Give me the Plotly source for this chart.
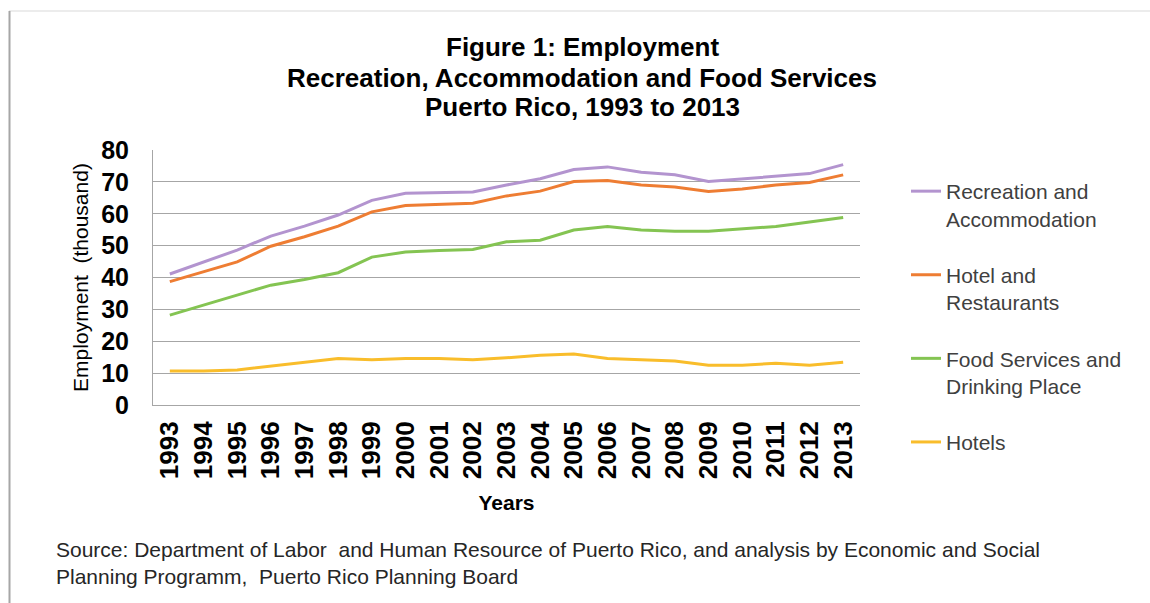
import plotly.graph_objects as go

years = [str(y) for y in range(1993, 2014)]
recreation = [41.1, 44.9, 48.6, 53.0, 56.1, 59.6, 64.2, 66.4, 66.7, 66.8, 69.0,
              71.0, 73.9, 74.7, 73.0, 72.2, 70.1, 70.9, 71.8, 72.6, 75.4]
hotel_rest = [38.7, 41.9, 44.9, 49.8, 52.8, 56.1, 60.6, 62.6, 62.9, 63.3, 65.6,
              67.1, 70.1, 70.4, 69.0, 68.4, 67.0, 67.8, 69.0, 69.8, 72.2]
food = [28.2, 31.3, 34.5, 37.6, 39.4, 41.5, 46.4, 48.0, 48.5, 48.8, 51.2,
        51.7, 54.9, 56.0, 54.9, 54.5, 54.5, 55.3, 56.0, 57.4, 58.8]
hotels = [10.7, 10.7, 11.0, 12.2, 13.6, 14.6, 14.2, 14.6, 14.6, 14.2, 14.8,
          15.6, 16.0, 14.6, 14.2, 13.8, 12.5, 12.5, 13.1, 12.5, 13.4]

series_names = ["Recreation and<br>Accommodation", "Hotel and<br>Restaurants",
                "Food Services and<br>Drinking Place", "Hotels"]
series_values = [recreation, hotel_rest, food, hotels]
series_colors = ["#b394cf", "#ee7d33", "#84c452", "#f9bd2b"]

title_lines = ["Figure 1: Employment",
               "Recreation, Accommodation and Food Services",
               "Puerto Rico, 1993 to 2013"]
source_text = ("Source: Department of Labor  and Human Resource of Puerto Rico, and analysis by Economic and Social<br>"
               "Planning Programm,  Puerto Rico Planning Board")

W, H = 1150, 603
L, R, T, B = 153, 860, 150, 405  # plot area in pixels

def px(x):
    return (x - L) / (R - L)

def py(y):
    return (B - y) / (B - T)

FONT = "Liberation Sans, Arial, sans-serif"

fig = go.Figure()
for i, (name, vals, col) in enumerate(zip(series_names, series_values, series_colors)):
    fig.add_trace(go.Scatter(x=years, y=vals, mode="lines", name=name,
                             legendgroup=f"g{i}",
                             line=dict(color=col, width=3)))

fig.update_layout(
    width=W, height=H,
    margin=dict(l=L, r=W - R, t=T, b=H - B, autoexpand=False),
    paper_bgcolor="white", plot_bgcolor="white",
    font=dict(family=FONT, color="#000000"),
    showlegend=True,
    legend=dict(x=px(906), xanchor="left", y=py(171), yanchor="top",
                traceorder="grouped", tracegroupgap=26, valign="top",
                maxheight=500,
                font=dict(size=21, color="#404040", family=FONT),
                bgcolor="rgba(0,0,0,0)", borderwidth=0),
    xaxis=dict(type="category", range=[-0.5, 20.5], showgrid=False,
               showline=True, linecolor="#a6a6a6", linewidth=1,
               ticks="", tickangle=-90, ticklabelstandoff=5,
               tickfont=dict(size=26, family=FONT, color="#000000", weight="bold"),
               title=dict(text="<b>Years</b>", font=dict(size=21, family=FONT, color="#000000"),
                          standoff=17)),
    yaxis=dict(range=[0, 80], dtick=10, showgrid=True, gridcolor="#a6a6a6", gridwidth=1,
               zeroline=True, zerolinecolor="#a6a6a6", zerolinewidth=1,
               showline=True, linecolor="#a6a6a6", linewidth=1,
               ticks="", ticklabelstandoff=18,
               tickfont=dict(size=25, family=FONT, color="#000000", weight="bold"),
               title=dict(text="Employment  (thousand)",
                          font=dict(size=21, family=FONT, color="#000000"),
                          standoff=6)),
)

for line_text, ypix in zip(title_lines, [47, 78, 107]):
    fig.add_annotation(
        text=f"<b>{line_text}</b>",
        xref="paper", yref="paper", x=px(582), y=py(ypix), xanchor="center", yanchor="middle",
        showarrow=False, align="center", font=dict(size=26, family=FONT, color="#000000"))

fig.add_annotation(
    text=source_text,
    xref="paper", yref="paper", x=px(54), y=py(563), xanchor="left", yanchor="middle",
    showarrow=False, align="left", font=dict(size=21, family=FONT, color="#262626"))

# chart frame
fig.add_shape(type="line", xref="paper", yref="paper", x0=px(9), x1=px(1150), y0=py(11), y1=py(11),
              line=dict(color="#d9d9d9", width=1))
fig.add_shape(type="line", xref="paper", yref="paper", x0=px(9.5), x1=px(9.5), y0=py(11), y1=py(603),
              line=dict(color="#a6a6a6", width=2))

fig.write_html("out.html")
